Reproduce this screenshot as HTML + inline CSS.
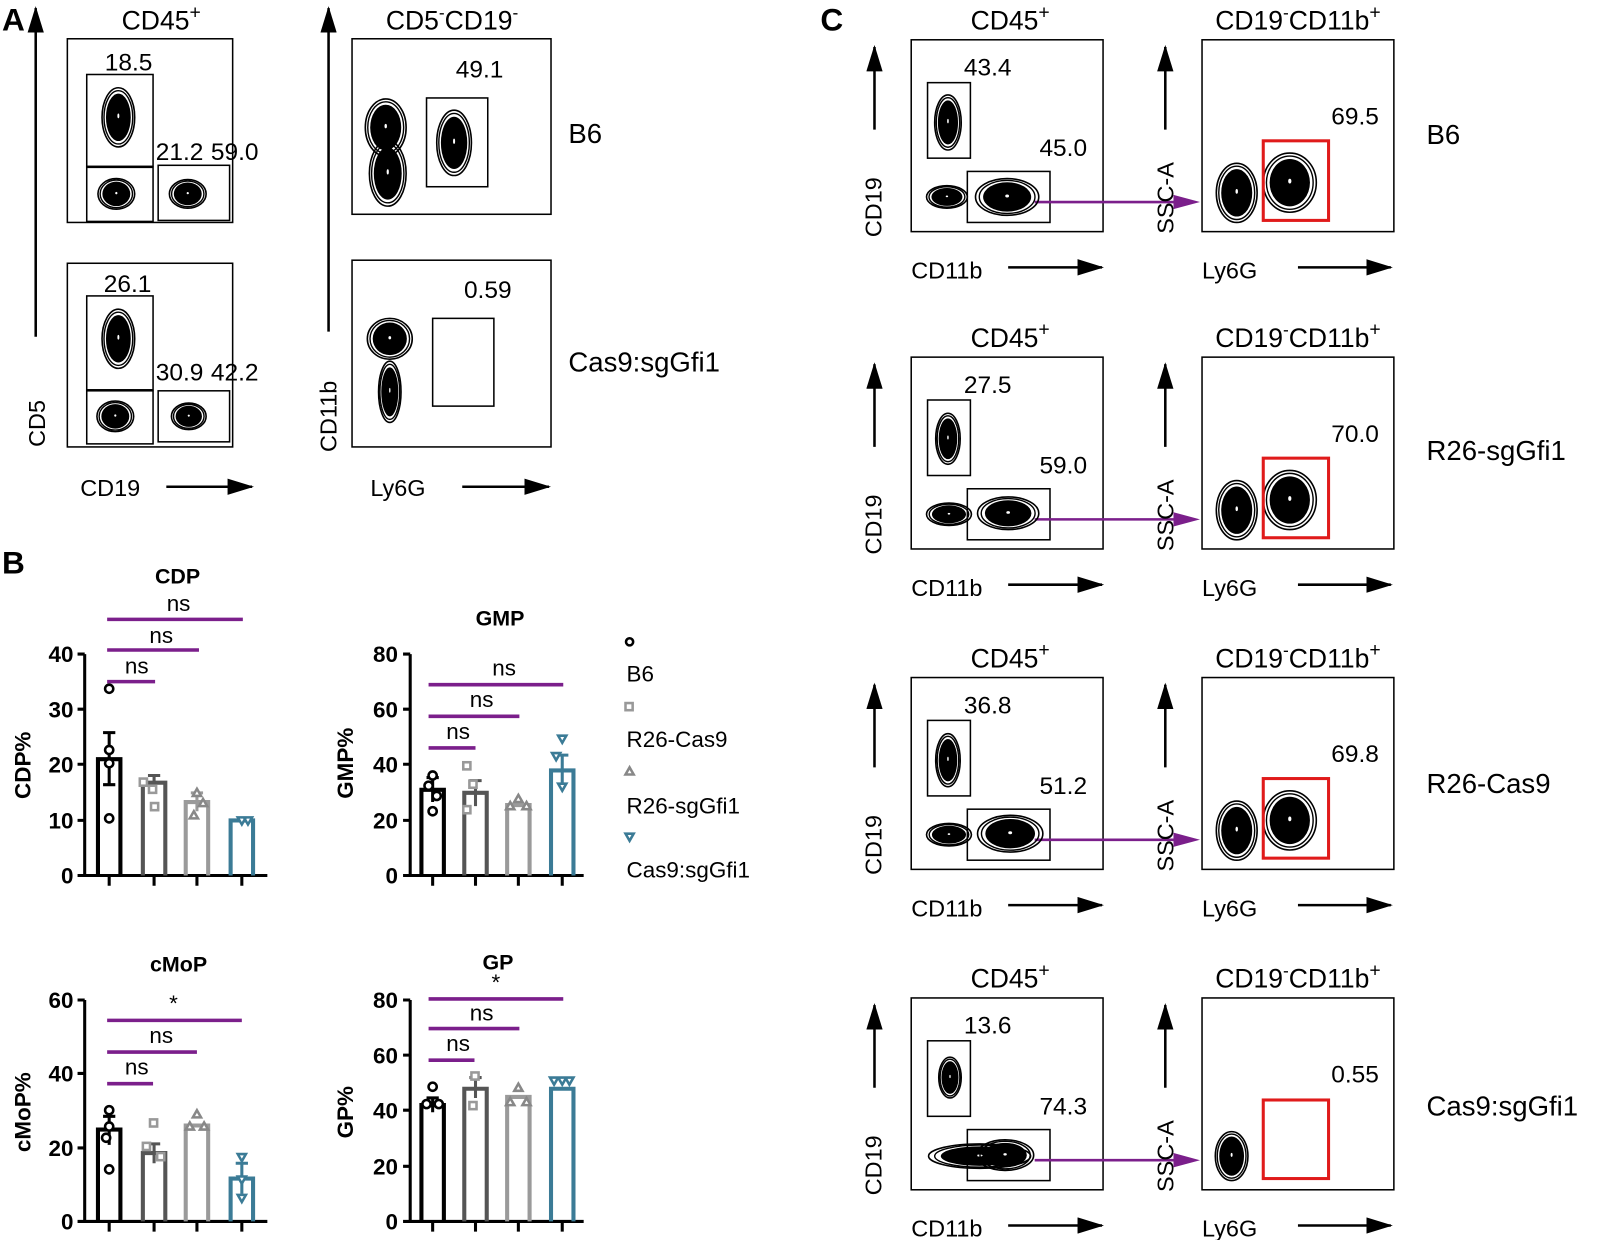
<!DOCTYPE html>
<html><head><meta charset="utf-8"><style>
html,body{margin:0;padding:0;background:#fff}
svg{display:block}
text{font-family:"Liberation Sans",Arial,sans-serif;fill:#000}
.b{font-weight:bold}
</style></head><body>
<svg width="1600" height="1240" viewBox="0 0 1600 1240" xmlns="http://www.w3.org/2000/svg">
<defs>
<marker id="ah" markerWidth="26" markerHeight="16" refX="24" refY="8" orient="auto" markerUnits="userSpaceOnUse"><path d="M0,0 L26,8 L0,16 Z" fill="#000"/></marker>
<g id="blob"><ellipse cx="0" cy="0" rx="1" ry="1" fill="none" stroke="#000" stroke-width="1.6" vector-effect="non-scaling-stroke"/><ellipse cx="0" cy="0" rx="0.88" ry="0.9" fill="none" stroke="#000" stroke-width="1.4" vector-effect="non-scaling-stroke"/><ellipse cx="0" cy="0" rx="0.76" ry="0.8" fill="#000"/><ellipse cx="0" cy="-0.05" rx="0.06" ry="0.08" fill="#fff"/></g>
</defs>
<g transform="scale(1.0204)">
<!-- ============ PANEL A ============ -->
<text x="2" y="30" font-size="31" class="b">A</text>
<text x="158" y="29" font-size="26" text-anchor="middle">CD45<tspan dy="-11" font-size="19">+</tspan></text>
<text x="443" y="29" font-size="26" text-anchor="middle">CD5<tspan dy="-11" font-size="17">-</tspan><tspan dy="11">CD19</tspan><tspan dy="-11" font-size="17">-</tspan></text>
<g fill="none" stroke="#000" stroke-width="1.5">
<rect x="66" y="38" width="162" height="180"/>
<rect x="66" y="258" width="162" height="180"/>
<rect x="345" y="38" width="195" height="172"/>
<rect x="345" y="255" width="195" height="183"/>
<rect x="85" y="73" width="65" height="90"/>
<rect x="85" y="164" width="65" height="53"/>
<rect x="155" y="162" width="70" height="54"/>
<rect x="85" y="290" width="65" height="92"/>
<rect x="85" y="383" width="65" height="52"/>
<rect x="155" y="383" width="70" height="50"/>
<rect x="418" y="96" width="60" height="87"/>
<rect x="424" y="312" width="60" height="86"/>
</g>
<use href="#blob" transform="translate(116,115) scale(16,29)"/>
<use href="#blob" transform="translate(114,190) scale(18,15)"/>
<use href="#blob" transform="translate(184,190) scale(18,14)"/>
<use href="#blob" transform="translate(116,332) scale(16,29)"/>
<use href="#blob" transform="translate(113,408) scale(18,15)"/>
<use href="#blob" transform="translate(185,408) scale(17,13)"/>
<use href="#blob" transform="translate(378,125) scale(20,28)"/>
<use href="#blob" transform="translate(380,170) scale(18,32)"/>
<use href="#blob" transform="translate(445,140) scale(17,32)"/>
<use href="#blob" transform="translate(382,332) scale(22,20)"/>
<use href="#blob" transform="translate(382,384) scale(11,30)"/>
<g font-size="24" text-anchor="middle">
<text x="126" y="69">18.5</text>
<text x="176" y="157">21.2</text>
<text x="230" y="157">59.0</text>
<text x="470" y="76">49.1</text>
<text x="125" y="286">26.1</text>
<text x="176" y="373">30.9</text>
<text x="230" y="373">42.2</text>
<text x="478" y="292">0.59</text>
</g>
<line x1="35" y1="330" x2="35" y2="8" stroke="#000" stroke-width="2.5" marker-end="url(#ah)"/>
<line x1="322" y1="325" x2="322" y2="8" stroke="#000" stroke-width="2.5" marker-end="url(#ah)"/>
<text transform="translate(44,415) rotate(-90)" font-size="23" text-anchor="middle">CD5</text>
<text transform="translate(330,408) rotate(-90)" font-size="23" text-anchor="middle">CD11b</text>
<text x="108" y="486" font-size="23" text-anchor="middle">CD19</text>
<text x="390" y="486" font-size="23" text-anchor="middle">Ly6G</text>
<line x1="163" y1="477" x2="247" y2="477" stroke="#000" stroke-width="2.5" marker-end="url(#ah)"/>
<line x1="453" y1="477" x2="538" y2="477" stroke="#000" stroke-width="2.5" marker-end="url(#ah)"/>
<text x="557" y="140" font-size="27">B6</text>
<text x="557" y="364" font-size="27">Cas9:sgGfi1</text>

<!-- ============ PANEL B ============ -->
<text x="2" y="562" font-size="31" class="b">B</text>
<g stroke="#7b1f8b" stroke-width="3.5">
<line x1="105" y1="668" x2="152" y2="668"/><line x1="105" y1="637" x2="195" y2="637"/><line x1="105" y1="607" x2="238" y2="607"/>
<line x1="420" y1="733" x2="466" y2="733"/><line x1="420" y1="702" x2="509" y2="702"/><line x1="420" y1="671" x2="552" y2="671"/>
<line x1="105" y1="1062" x2="150" y2="1062"/><line x1="105" y1="1031" x2="193" y2="1031"/><line x1="105" y1="1000" x2="237" y2="1000"/>
<line x1="420" y1="1039" x2="465" y2="1039"/><line x1="420" y1="1008" x2="509" y2="1008"/><line x1="420" y1="979" x2="552" y2="979"/>
</g>
<g font-size="22" text-anchor="middle">
<text x="134" y="660">ns</text><text x="158" y="630">ns</text><text x="175" y="599">ns</text>
<text x="449" y="724">ns</text><text x="472" y="693">ns</text><text x="494" y="662">ns</text>
<text x="134" y="1053">ns</text><text x="158" y="1022">ns</text><text x="170" y="991">*</text>
<text x="449" y="1030">ns</text><text x="472" y="1000">ns</text><text x="486" y="970">*</text>
</g>
<g font-size="21" class="b" text-anchor="middle">
<text x="174" y="572">CDP</text><text x="490" y="613">GMP</text>
<text x="175" y="952">cMoP</text><text x="488" y="950">GP</text>
</g>
<g font-size="22" class="b">
<text transform="translate(30,750) rotate(-90)" text-anchor="middle">CDP%</text>
<text transform="translate(346,748) rotate(-90)" text-anchor="middle">GMP%</text>
<text transform="translate(30,1090) rotate(-90)" text-anchor="middle">cMoP%</text>
<text transform="translate(346,1090) rotate(-90)" text-anchor="middle">GP%</text>
</g>
<g stroke="#000" stroke-width="3" fill="none">
<path d="M83,641 V858 H262 M76,641H83 M76,695H83 M76,749H83 M76,804H83 M76,858H83 M107,858V868 M151,858V868 M193,858V868 M237,858V868"/>
<path d="M402,641 V858 H572 M395,641H402 M395,695H402 M395,749H402 M395,804H402 M395,858H402 M424,858V868 M466,858V868 M508,858V868 M551,858V868"/>
<path d="M83,980 V1197 H262 M76,980H83 M76,1052H83 M76,1125H83 M76,1197H83 M107,1197V1207 M151,1197V1207 M193,1197V1207 M237,1197V1207"/>
<path d="M402,980 V1197 H572 M395,980H402 M395,1034H402 M395,1088H402 M395,1143H402 M395,1197H402 M424,1197V1207 M466,1197V1207 M508,1197V1207 M551,1197V1207"/>
</g>
<g font-size="22" class="b" text-anchor="end">
<text x="72" y="649">40</text><text x="72" y="703">30</text><text x="72" y="757">20</text><text x="72" y="812">10</text><text x="72" y="866">0</text>
<text x="390" y="649">80</text><text x="390" y="703">60</text><text x="390" y="757">40</text><text x="390" y="812">20</text><text x="390" y="866">0</text>
<text x="72" y="988">60</text><text x="72" y="1060">40</text><text x="72" y="1133">20</text><text x="72" y="1205">0</text>
<text x="390" y="988">80</text><text x="390" y="1042">60</text><text x="390" y="1096">40</text><text x="390" y="1151">20</text><text x="390" y="1205">0</text>
</g>
<g fill="none" stroke-width="4">
<path stroke="#000" d="M96,858V744H118V858"/><path stroke="#555" d="M140,858V767H162V858"/><path stroke="#9a9a9a" d="M182,858V786H204V858"/><path stroke="#3b7b96" d="M226,858V804H248V858"/>
<path stroke="#000" d="M413,858V774H435V858"/><path stroke="#555" d="M455,858V777H477V858"/><path stroke="#9a9a9a" d="M497,858V789H519V858"/><path stroke="#3b7b96" d="M540,858V755H562V858"/>
<path stroke="#000" d="M96,1197V1107H118V1197"/><path stroke="#555" d="M140,1197V1130H162V1197"/><path stroke="#9a9a9a" d="M182,1197V1103H204V1197"/><path stroke="#3b7b96" d="M226,1197V1155H248V1197"/>
<path stroke="#000" d="M413,1197V1083H435V1197"/><path stroke="#555" d="M455,1197V1067H477V1197"/><path stroke="#9a9a9a" d="M497,1197V1075H519V1197"/><path stroke="#3b7b96" d="M540,1197V1067H562V1197"/>
</g>
<g stroke-width="3" fill="none">
<path stroke="#000" d="M107,718V769M101,718H113M101,769H113"/>
<path stroke="#555" d="M151,760V774M145,760H157"/>
<path stroke="#9a9a9a" d="M193,777V795M187,777H199"/>
<path stroke="#000" d="M424,762V786M418,762H430"/>
<path stroke="#555" d="M466,765V790M460,765H472"/>
<path stroke="#3b7b96" d="M551,740V770M545,740H557"/>
<path stroke="#000" d="M107,1094V1122M101,1094H113"/>
<path stroke="#555" d="M151,1121V1140M145,1121H157"/>
<path stroke="#3b7b96" d="M237,1140V1170M231,1140H243"/>
<path stroke="#000" d="M424,1076V1090M418,1076H430"/>
<path stroke="#555" d="M466,1056V1076M460,1056H472"/>
</g>
<g fill="#fff" stroke-width="2.5">
<g stroke="#000"><circle cx="107" cy="675" r="4"/><circle cx="107" cy="735" r="4"/><circle cx="107" cy="748" r="4"/><circle cx="107" cy="802" r="4"/>
<circle cx="424" cy="760" r="4"/><circle cx="420" cy="770" r="4"/><circle cx="428" cy="780" r="4"/><circle cx="424" cy="795" r="4"/>
<circle cx="107" cy="1088" r="4"/><circle cx="107" cy="1104" r="4"/><circle cx="104" cy="1115" r="4"/><circle cx="107" cy="1146" r="4"/>
<circle cx="424" cy="1065" r="4"/><circle cx="418" cy="1082" r="4"/><circle cx="430" cy="1082" r="4"/></g>
<g stroke="#999"><rect x="137" y="763" width="7" height="7"/><rect x="146" y="770" width="7" height="7"/><rect x="148" y="787" width="7" height="7"/>
<rect x="454" y="747" width="7" height="7"/><rect x="460" y="765" width="7" height="7"/><rect x="454" y="790" width="7" height="7"/>
<rect x="147" y="1097" width="7" height="7"/><rect x="140" y="1120" width="7" height="7"/><rect x="154" y="1130" width="7" height="7"/>
<rect x="462" y="1051" width="7" height="7"/><rect x="460" y="1080" width="7" height="7"/></g>
<g stroke="#888"><path d="M193,773l4,7h-8z M190,795l4,7h-8z M199,783l4,7h-8z M193,1088l4,7h-8z M186,1100l4,7h-8z M200,1100l4,7h-8z M508,779l4,7h-8z M500,786l4,7h-8z M516,786l4,7h-8z M508,1062l4,7h-8z M500,1076l4,7h-8z M516,1076l4,7h-8z"/></g>
<g stroke="#3b7b96"><path d="M551,728l4,-7h-8z M545,745l4,-7h-8z M551,775l4,-7h-8z M237,808l4,-7h-8z M243,808l4,-7h-8z M237,1138l4,-7h-8z M237,1160l4,-7h-8z M237,1178l4,-7h-8z M551,1063l4,-7h-8z M543,1063l4,-7h-8z M558,1063l4,-7h-8z"/></g>
<circle cx="617" cy="629" r="3.5" stroke="#000"/>
<rect x="613" y="689" width="7" height="7" stroke="#999"/>
<path d="M617,752l4,7h-8z" stroke="#888"/>
<path d="M617,824l4,-7h-8z" stroke="#3b7b96"/>
</g>
<g font-size="22">
<text x="614" y="668">B6</text><text x="614" y="732">R26-Cas9</text><text x="614" y="797">R26-sgGfi1</text><text x="614" y="860">Cas9:sgGfi1</text>
</g>

<!-- ============ PANEL C ============ -->
<text x="804" y="30" font-size="31" class="b">C</text>
<g id="crow">
<g fill="none" stroke="#000" stroke-width="1.5">
<rect x="893" y="39" width="188" height="188"/>
<rect x="1178" y="39" width="188" height="188"/>
<rect x="909" y="81" width="42" height="74"/>
<rect x="948" y="168" width="81" height="50"/>
</g>
<line x1="1014" y1="198" x2="1160" y2="198" stroke="#7b1f8b" stroke-width="2.5"/>
<path d="M1150,191 L1176,198 L1150,205 Z" fill="#7b1f8b"/>
<line x1="857" y1="127" x2="857" y2="46" stroke="#000" stroke-width="2.5" marker-end="url(#ah)"/>
<line x1="1142" y1="127" x2="1142" y2="46" stroke="#000" stroke-width="2.5" marker-end="url(#ah)"/>
<line x1="988" y1="262" x2="1080" y2="262" stroke="#000" stroke-width="2.5" marker-end="url(#ah)"/>
<line x1="1272" y1="262" x2="1363" y2="262" stroke="#000" stroke-width="2.5" marker-end="url(#ah)"/>
<text x="990" y="29" font-size="26" text-anchor="middle">CD45<tspan dy="-11" font-size="19">+</tspan></text>
<text x="1272" y="29" font-size="26" text-anchor="middle">CD19<tspan dy="-11" font-size="17">-</tspan><tspan dy="11">CD11b</tspan><tspan dy="-11" font-size="19">+</tspan></text>
<text transform="translate(864,203) rotate(-90)" font-size="23" text-anchor="middle">CD19</text>
<text transform="translate(1150,194) rotate(-90)" font-size="23" text-anchor="middle">SSC-A</text>
<text x="893" y="273" font-size="23">CD11b</text>
<text x="1178" y="273" font-size="23">Ly6G</text>
</g>
<use href="#crow" transform="translate(0,311)"/>
<use href="#crow" transform="translate(0,625)"/>
<use href="#crow" transform="translate(0,939)"/>
<g>
<use href="#blob" transform="translate(929,120) scale(13,27)"/>
<use href="#blob" transform="translate(928,193) scale(20,11)"/>
<use href="#blob" transform="translate(987,193) scale(31,18)"/>
<use href="#blob" transform="translate(1212,189) scale(20,29)"/>
<use href="#blob" transform="translate(1264,179) scale(26,29)"/>
<use href="#blob" transform="translate(929,430) scale(12,25)"/>
<use href="#blob" transform="translate(930,504) scale(22,11)"/>
<use href="#blob" transform="translate(988,503) scale(30,16)"/>
<use href="#blob" transform="translate(1212,500) scale(20,29)"/>
<use href="#blob" transform="translate(1264,490) scale(26,29)"/>
<use href="#blob" transform="translate(929,745) scale(12,26)"/>
<use href="#blob" transform="translate(930,818) scale(22,11)"/>
<use href="#blob" transform="translate(990,817) scale(32,18)"/>
<use href="#blob" transform="translate(1212,814) scale(20,29)"/>
<use href="#blob" transform="translate(1264,804) scale(26,29)"/>
<use href="#blob" transform="translate(931,1056) scale(11,20)"/>
<use href="#blob" transform="translate(960,1133) scale(50,12)"/>
<use href="#blob" transform="translate(985,1132) scale(28,15)"/>
<use href="#blob" transform="translate(1207,1133) scale(16,24)"/>
</g>
<g fill="none" stroke="#e01b1b" stroke-width="3">
<rect x="1238" y="138" width="64" height="78"/>
<rect x="1238" y="449" width="64" height="78"/>
<rect x="1238" y="763" width="64" height="78"/>
<rect x="1238" y="1078" width="64" height="77"/>
</g>
<g font-size="24" text-anchor="middle">
<text x="968" y="74">43.4</text><text x="1042" y="153">45.0</text><text x="1328" y="122">69.5</text>
<text x="968" y="385">27.5</text><text x="1042" y="464">59.0</text><text x="1328" y="433">70.0</text>
<text x="968" y="699">36.8</text><text x="1042" y="778">51.2</text><text x="1328" y="747">69.8</text>
<text x="968" y="1013">13.6</text><text x="1042" y="1092">74.3</text><text x="1328" y="1061">0.55</text>
</g>
<g font-size="27">
<text x="1398" y="141">B6</text>
<text x="1398" y="451">R26-sgGfi1</text>
<text x="1398" y="777">R26-Cas9</text>
<text x="1398" y="1093">Cas9:sgGfi1</text>
</g>
</g>
</svg>
</body></html>
